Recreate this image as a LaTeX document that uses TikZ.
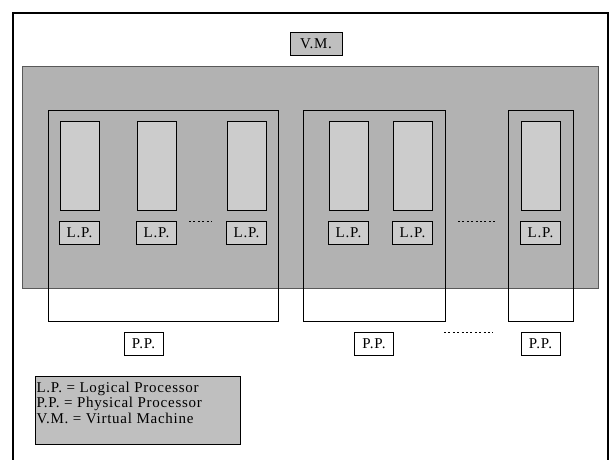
\documentclass[tikz,border=0pt]{standalone}
\usepackage{fontspec}
\setmainfont{Liberation Serif}[LetterSpace=5]
\begin{document}
\begin{tikzpicture}[x=1pt,y=-1pt,
  every node/.style={inner sep=0pt,outer sep=0pt,font=\fontsize{15}{15.5}\selectfont},
  vmarea/.style={draw=black!65,line width=0.8pt,fill=black!30},
  ppbox/.style={draw=black,line width=0.9pt},
  lpcell/.style={draw=black,line width=0.9pt,fill=black!20,minimum width=39pt,minimum height=89pt},
  lplabel/.style={draw=black,line width=0.9pt,fill=black!20,minimum width=40pt,minimum height=23pt},
  pplabel/.style={draw=black,line width=0.9pt,fill=white,minimum width=39pt,minimum height=23pt},
  vmlabel/.style={draw=black,line width=0.9pt,fill=black!25,minimum width=52pt,minimum height=23pt},
  ellipsis/.style={line width=0.8pt,dash pattern=on 2pt off 2.4pt}]
\useasboundingbox (0,0) rectangle (610,459);
% outer frame (bottom edge lies below the page)
\draw[line width=1.3pt] (13,470) -- (13,13) -- (608,13) -- (608,470);
% virtual machine area
\path[vmarea] (22,66) rectangle (598,288);
\node[vmlabel] (vm) at (316,43.5) {V.M.};
% physical processors
\node[ppbox,minimum width=230pt,minimum height=211pt] (pp1) at (163,215.5) {};
\node[ppbox,minimum width=142pt,minimum height=211pt] (pp2) at (374,215.5) {};
\node[ppbox,minimum width=65pt,minimum height=211pt] (pp3) at (540.5,215.5) {};
% logical processors
\foreach \n/\x in {1/79.5,2/156.5,3/246.5,4/348.5,5/412.5,6/540.5}{
  \node[lpcell] (lp\n) at (\x,165.5) {};
  \node[lplabel] (lpl\n) at (\x,232.5) {L.P.};
}
% ellipses between processors
\coordinate (d1a) at (189,221); \coordinate (d1b) at (212,221);
\coordinate (d2a) at (458,221); \coordinate (d2b) at (496,221);
\coordinate (d3a) at (444,332); \coordinate (d3b) at (493,332);
\draw[ellipsis] (d1a) -- (d1b);
\draw[ellipsis] (d2a) -- (d2b);
\draw[ellipsis] (d3a) -- (d3b);
% physical processor labels
\node[pplabel] (ppl1) at (143.5,343.5) {P.P.};
\node[pplabel] (ppl2) at (374,343.5) {P.P.};
\node[pplabel] (ppl3) at (540.5,343.5) {P.P.};
% legend
\node[draw=black,line width=0.9pt,fill=black!25,minimum width=205pt,minimum height=68pt,anchor=north west] (legend) at (35,376) {};
\node[anchor=north west,align=left] (legendtext) at ([xshift=1.5pt,yshift=-6pt]legend.north west)
  {L.P. = Logical Processor\\P.P. = Physical Processor\\V.M. = Virtual Machine};
\end{tikzpicture}
\end{document}
